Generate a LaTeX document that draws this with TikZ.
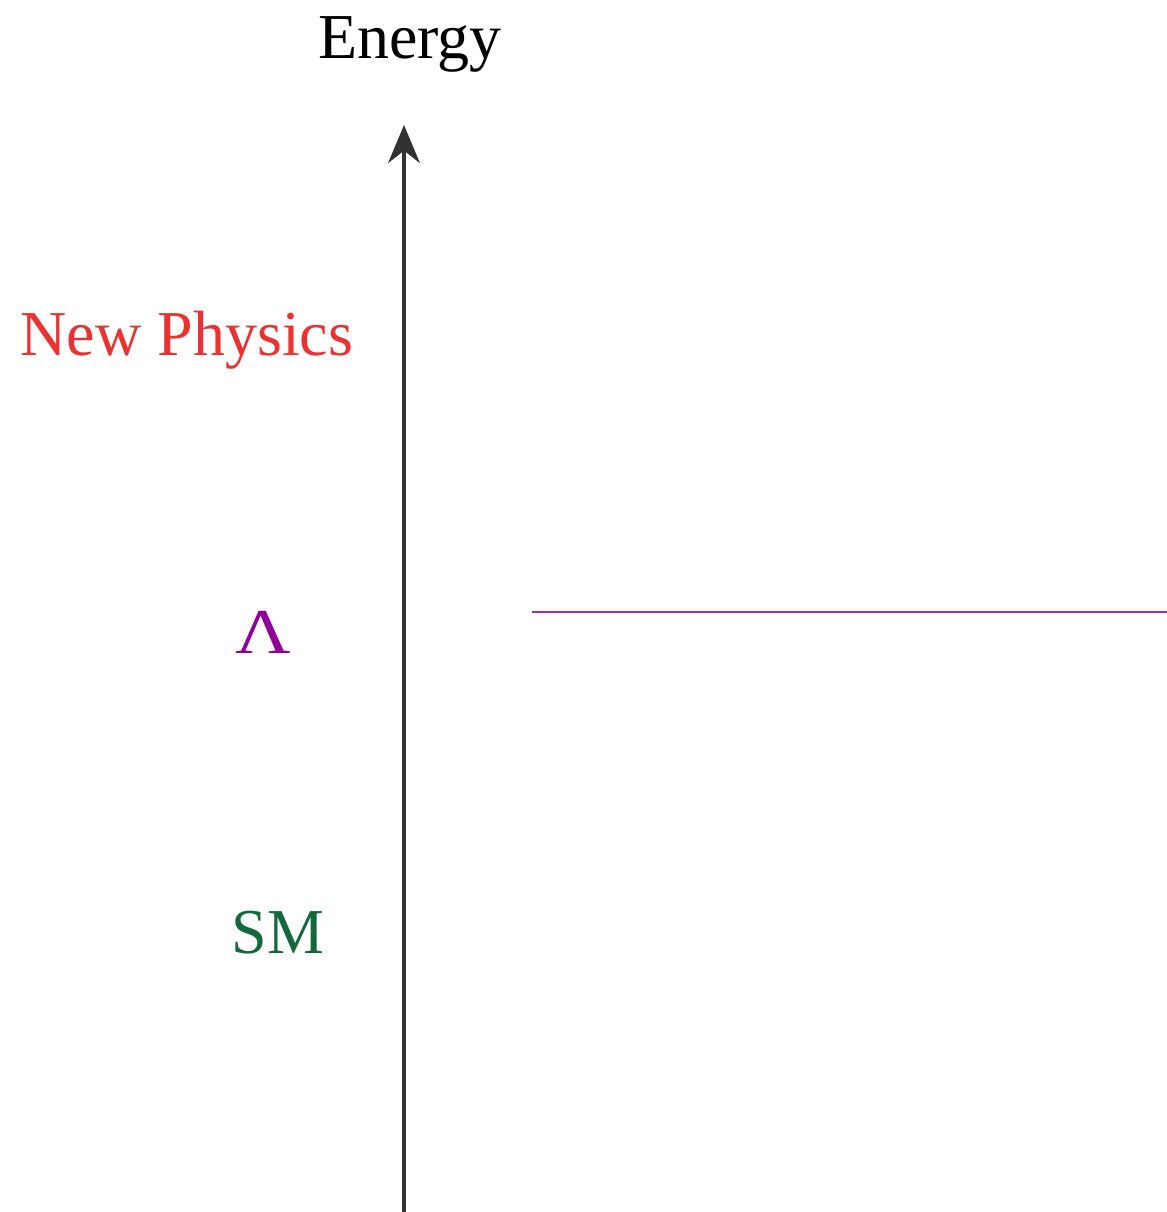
\documentclass[tikz,border=0pt]{standalone}
\usepackage{fontspec}
\setmainfont{Liberation Serif}
\usetikzlibrary{arrows.meta}
\definecolor{axisgray}{RGB}{50,50,50}
\definecolor{npred}{RGB}{235,50,50}
\definecolor{cutpurple}{RGB}{145,0,150}
\definecolor{linepurple}{RGB}{160,40,200}
\definecolor{smgreen}{RGB}{20,105,60}
\tikzset{
  lbl/.style={anchor=base, inner sep=0pt, font=\fontsize{18.2}{22}\selectfont}
}
\begin{document}
\begin{tikzpicture}[x=0.01cm, y=-0.01cm]
    \useasboundingbox (0,0) rectangle (1167,1212);

    % energy axis
    \coordinate (bottom) at (404,1212);
    \coordinate (top) at (404,125);
    \draw[axisgray, line width=1.15pt, -{Stealth[length=10.8pt, width=9pt]}] (bottom) -- (top);
    \node[lbl] (energy) at (410,58) {Energy};

    % scales
    \node[lbl, text=npred] (newphys) at (187,355) {New Physics};
    \node[lbl, text=cutpurple, xscale=1.2] (lambda) at (263,653) {Λ};
    \node[lbl, text=smgreen] (sm) at (278,953) {SM};

    % cutoff line
    \coordinate (cutL) at (532,612);
    \coordinate (cutR) at (1167,612);
    \draw[linepurple, line width=0.8pt] (cutL) -- (cutR);
\end{tikzpicture}
\end{document}
